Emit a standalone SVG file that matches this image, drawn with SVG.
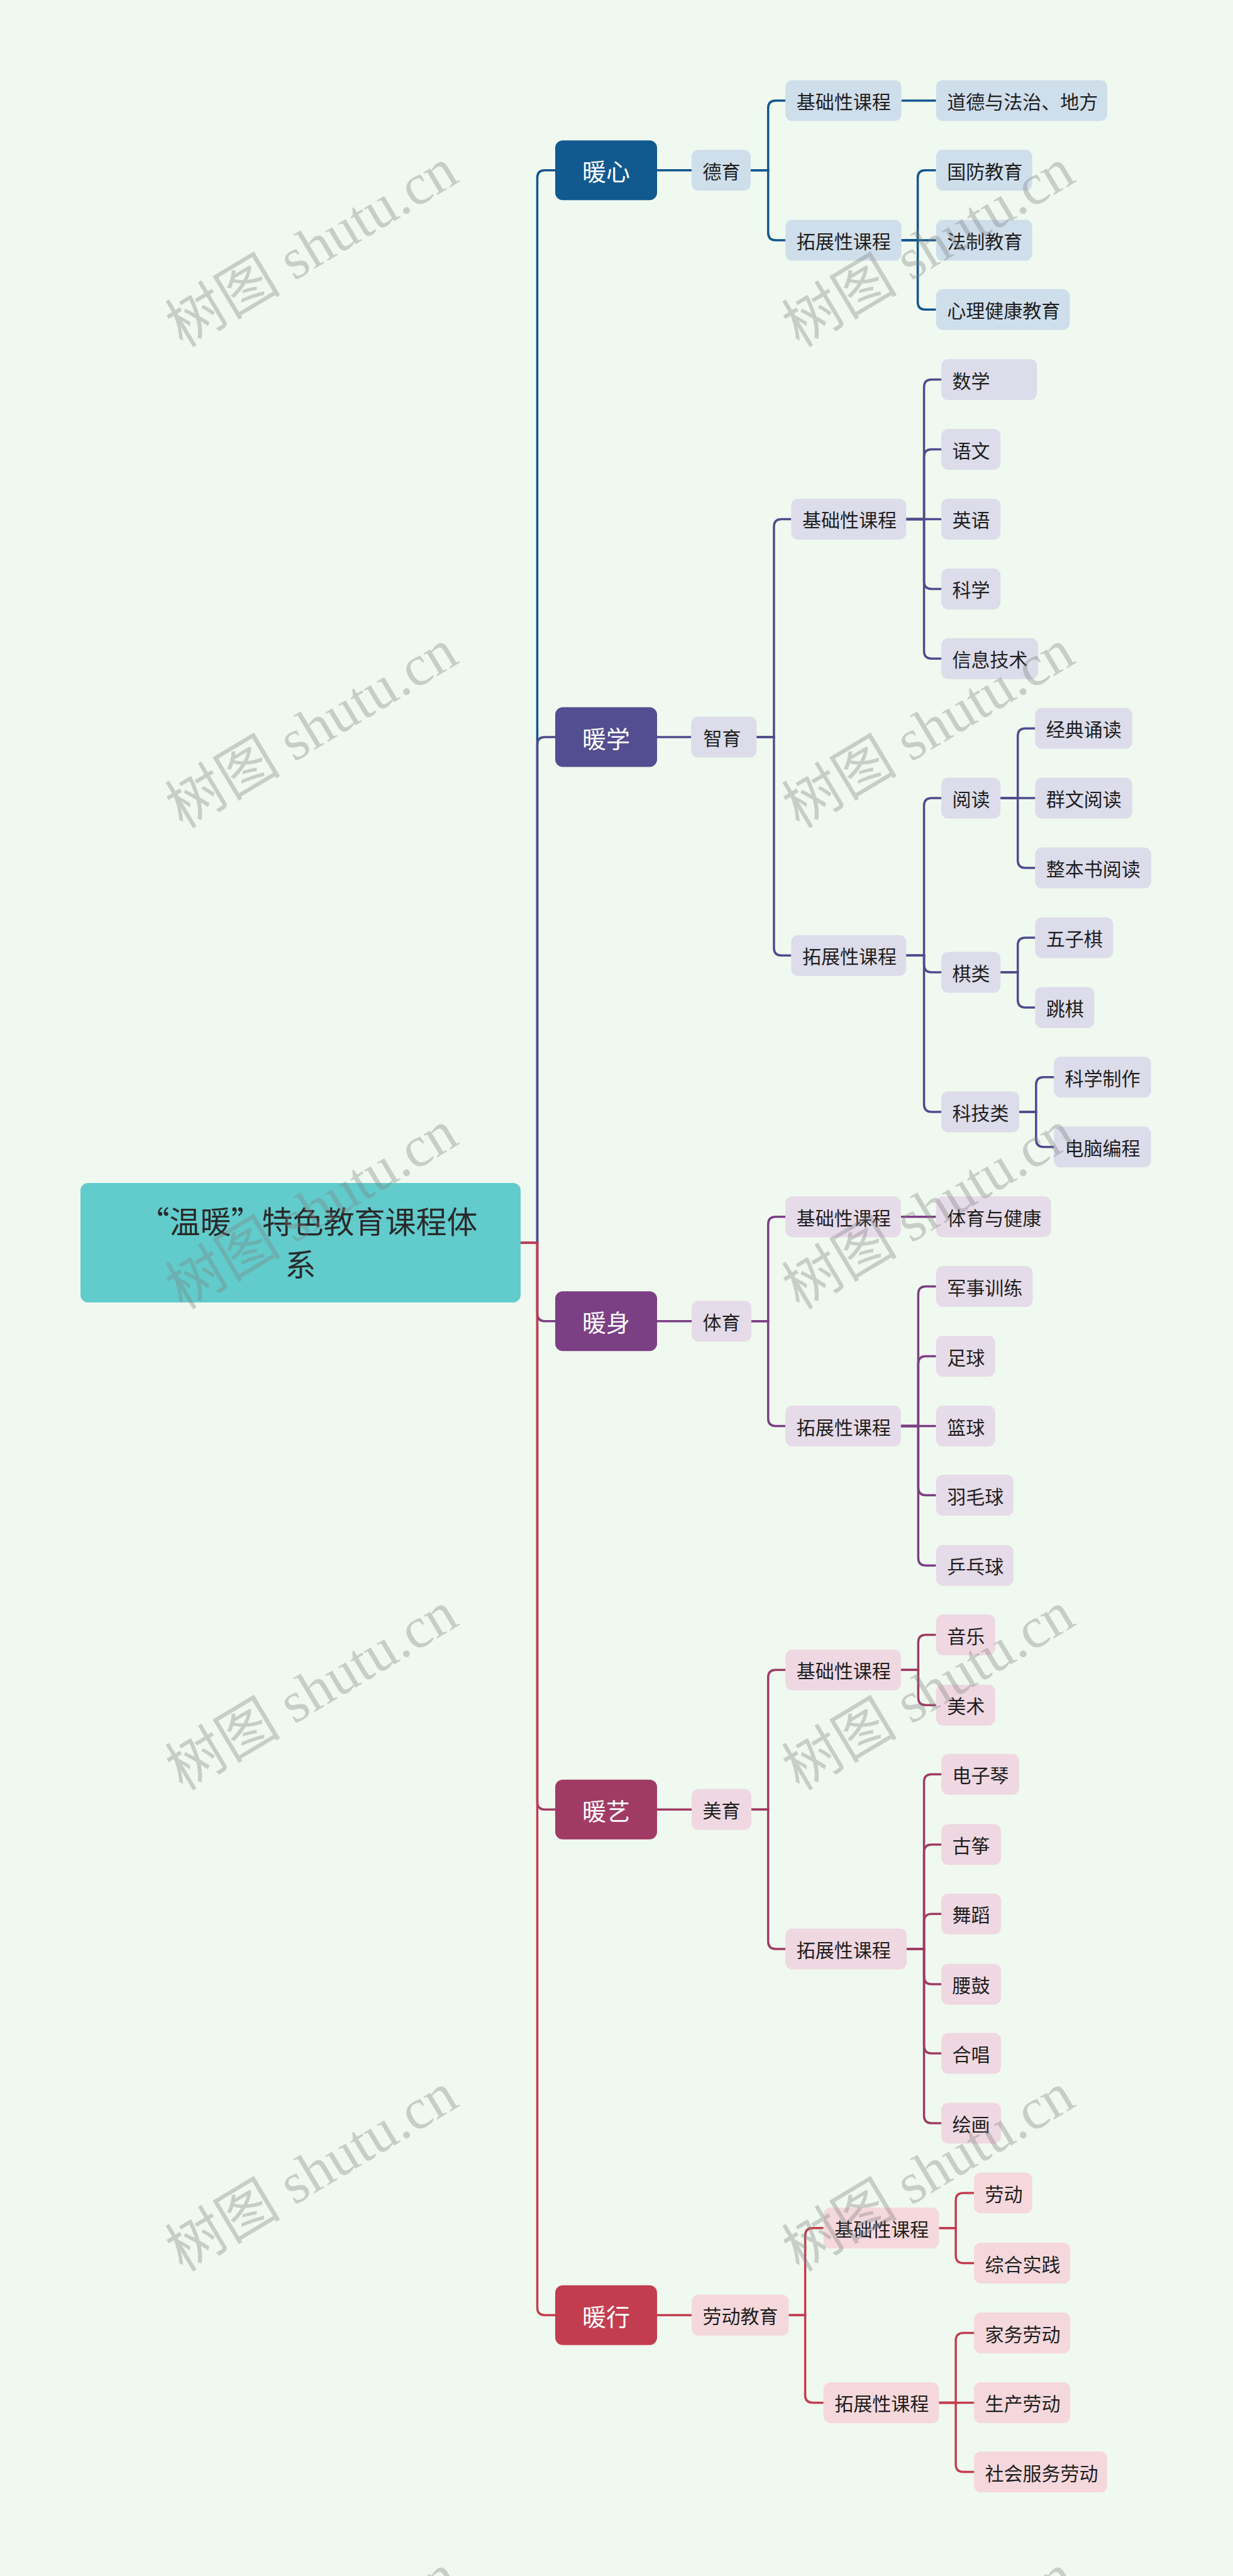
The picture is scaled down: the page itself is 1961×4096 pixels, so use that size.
<svg xmlns="http://www.w3.org/2000/svg" width="1961" height="4096" viewBox="0 0 1961 4096">
<style>
.lb{font-family:"Noto Sans CJK SC","Noto Sans",sans-serif;font-size:30px;fill:#1e1e1e;dominant-baseline:central;}
.mn{font-family:"Noto Sans CJK SC","Noto Sans",sans-serif;font-size:38px;fill:#ffffff;text-anchor:middle;dominant-baseline:central;}
.rt{font-family:"Noto Sans CJK SC","Noto Sans",sans-serif;font-size:49px;fill:#2a2a2a;text-anchor:middle;}
.ln{fill:none;stroke-width:3.5;}
.k1{stroke:#11568f}.k2{stroke:#4f4b8d}.k3{stroke:#7b3f84}.k4{stroke:#9e3b65}.k5{stroke:#c23d4f}
.p1{fill:#cfdeeb}.p2{fill:#dcdcea}.p3{fill:#e6dbe8}.p4{fill:#efd8e2}.p5{fill:#f5d8dc}
.wm{font-family:"Liberation Serif","Noto Sans CJK SC",serif;font-size:92px;fill:#7f7f7f;fill-opacity:0.36;text-anchor:middle;dominant-baseline:central;}
</style>
<rect x="0" y="0" width="1961" height="4096" fill="#f0f9ef"/>

<g id="connectors">
<path class="ln k1" d="M828 1976 H854.5 V282.8 Q854.5 270.8 866.5 270.8 H883"/>
<path class="ln k2" d="M828 1976 H854.5 V1184 Q854.5 1172 866.5 1172 H883"/>
<path class="ln k3" d="M828 1976 H854.5 V2088.7 Q854.5 2100.7 866.5 2100.7 H883"/>
<path class="ln k4" d="M828 1976 H854.5 V2865.2 Q854.5 2877.2 866.5 2877.2 H883"/>
<path class="ln k5" d="M828 1976 H854.5 V3669.2 Q854.5 3681.2 866.5 3681.2 H883"/>

<path class="ln k1" d="M1045 270.8 H1100"/>
<path class="ln k1" d="M1194 270.8 H1221.7 V171.9 Q1221.7 159.9 1233.7 159.9 H1249.2"/>
<path class="ln k1" d="M1194 270.8 H1221.7 V370.1 Q1221.7 382.1 1233.7 382.1 H1249.2"/>
<path class="ln k1" d="M1433.6 159.9 H1488.7"/>
<path class="ln k1" d="M1433.6 382.1 H1459.6 V282.8 Q1459.6 270.8 1471.6 270.8 H1488.7"/>
<path class="ln k1" d="M1433.6 382.1 H1488.7"/>
<path class="ln k1" d="M1433.6 382.1 H1459.6 V480.3 Q1459.6 492.3 1471.6 492.3 H1488.7"/>

<path class="ln k2" d="M1045 1172 H1099.3"/>
<path class="ln k2" d="M1203.3 1172 H1230.9 V837.4 Q1230.9 825.4 1242.9 825.4 H1258.4"/>
<path class="ln k2" d="M1203.3 1172 H1230.9 V1507.3 Q1230.9 1519.3 1242.9 1519.3 H1258.4"/>
<path class="ln k2" d="M1441.2 825.4 H1469.6 V615.6 Q1469.6 603.6 1481.6 603.6 H1497.1"/>
<path class="ln k2" d="M1441.2 825.4 H1469.6 V726.5 Q1469.6 714.5 1481.6 714.5 H1497.1"/>
<path class="ln k2" d="M1441.2 825.4 H1497.1"/>
<path class="ln k2" d="M1441.2 825.4 H1469.6 V924.4 Q1469.6 936.4 1481.6 936.4 H1497.1"/>
<path class="ln k2" d="M1441.2 825.4 H1469.6 V1035.3 Q1469.6 1047.3 1481.6 1047.3 H1497.1"/>
<path class="ln k2" d="M1441.2 1519.3 H1469.6 V1281.1 Q1469.6 1269.1 1481.6 1269.1 H1497.1"/>
<path class="ln k2" d="M1441.2 1519.3 H1469.6 V1534.1 Q1469.6 1546.1 1481.6 1546.1 H1497.1"/>
<path class="ln k2" d="M1441.2 1519.3 H1469.6 V1755.9 Q1469.6 1767.9 1481.6 1767.9 H1497.1"/>
<path class="ln k2" d="M1591.2 1269.1 H1618.7 V1170.2 Q1618.7 1158.2 1630.7 1158.2 H1646.3"/>
<path class="ln k2" d="M1591.2 1269.1 H1646.3"/>
<path class="ln k2" d="M1591.2 1269.1 H1618.7 V1368.1 Q1618.7 1380.1 1630.7 1380.1 H1646.3"/>
<path class="ln k2" d="M1591.2 1546.1 H1618.7 V1503 Q1618.7 1491 1630.7 1491 H1646.3"/>
<path class="ln k2" d="M1591.2 1546.1 H1618.7 V1589.9 Q1618.7 1601.9 1630.7 1601.9 H1646.3"/>
<path class="ln k2" d="M1621 1767.9 H1647.8 V1724.8 Q1647.8 1712.8 1659.8 1712.8 H1676.1"/>
<path class="ln k2" d="M1621 1767.9 H1647.8 V1811.8 Q1647.8 1823.8 1659.8 1823.8 H1676.1"/>

<path class="ln k3" d="M1045 2100.7 H1100"/>
<path class="ln k3" d="M1195 2100.7 H1221.7 V1946.7 Q1221.7 1934.7 1233.7 1934.7 H1249.2"/>
<path class="ln k3" d="M1195 2100.7 H1221.7 V2255.5 Q1221.7 2267.5 1233.7 2267.5 H1249.2"/>
<path class="ln k3" d="M1432.8 1934.7 H1488.7"/>
<path class="ln k3" d="M1432.8 2267.5 H1460.4 V2057.6 Q1460.4 2045.6 1472.4 2045.6 H1488.7"/>
<path class="ln k3" d="M1432.8 2267.5 H1460.4 V2168.5 Q1460.4 2156.5 1472.4 2156.5 H1488.7"/>
<path class="ln k3" d="M1432.8 2267.5 H1488.7"/>
<path class="ln k3" d="M1432.8 2267.5 H1460.4 V2365.6 Q1460.4 2377.6 1472.4 2377.6 H1488.7"/>
<path class="ln k3" d="M1432.8 2267.5 H1460.4 V2477.3 Q1460.4 2489.3 1472.4 2489.3 H1488.7"/>

<path class="ln k4" d="M1045 2877.2 H1100"/>
<path class="ln k4" d="M1195 2877.2 H1221.7 V2667.3 Q1221.7 2655.3 1233.7 2655.3 H1249.2"/>
<path class="ln k4" d="M1195 2877.2 H1221.7 V3087 Q1221.7 3099 1233.7 3099 H1249.2"/>
<path class="ln k4" d="M1432.8 2655.3 H1460.4 V2611.5 Q1460.4 2599.5 1472.4 2599.5 H1488.7"/>
<path class="ln k4" d="M1432.8 2655.3 H1460.4 V2699.2 Q1460.4 2711.2 1472.4 2711.2 H1488.7"/>
<path class="ln k4" d="M1442 3099 H1469.6 V2833.3 Q1469.6 2821.3 1481.6 2821.3 H1497.1"/>
<path class="ln k4" d="M1442 3099 H1469.6 V2945 Q1469.6 2933 1481.6 2933 H1497.1"/>
<path class="ln k4" d="M1442 3099 H1469.6 V3055.2 Q1469.6 3043.2 1481.6 3043.2 H1497.1"/>
<path class="ln k4" d="M1442 3099 H1469.6 V3142.9 Q1469.6 3154.9 1481.6 3154.9 H1497.1"/>
<path class="ln k4" d="M1442 3099 H1469.6 V3253 Q1469.6 3265 1481.6 3265 H1497.1"/>
<path class="ln k4" d="M1442 3099 H1469.6 V3364 Q1469.6 3376 1481.6 3376 H1497.1"/>

<path class="ln k5" d="M1045 3681.2 H1100"/>
<path class="ln k5" d="M1254.5 3681.2 H1280.6 V3554.7 Q1280.6 3542.7 1292.6 3542.7 H1309.7"/>
<path class="ln k5" d="M1254.5 3681.2 H1280.6 V3808.4 Q1280.6 3820.4 1292.6 3820.4 H1309.7"/>
<path class="ln k5" d="M1493.3 3542.7 H1520.1 V3498.9 Q1520.1 3486.9 1532.1 3486.9 H1549.1"/>
<path class="ln k5" d="M1493.3 3542.7 H1520.1 V3586.6 Q1520.1 3598.6 1532.1 3598.6 H1549.1"/>
<path class="ln k5" d="M1493.3 3820.4 H1520.1 V3721.5 Q1520.1 3709.5 1532.1 3709.5 H1549.1"/>
<path class="ln k5" d="M1493.3 3820.4 H1549.1"/>
<path class="ln k5" d="M1493.3 3820.4 H1520.1 V3918.6 Q1520.1 3930.6 1532.1 3930.6 H1549.1"/>
</g>

<g id="root"><rect x="128" y="1881" width="700" height="190" rx="12" fill="#62cbcc"/><text class="rt" x="490" y="1961">“温暖”特色教育课程体</text><text class="rt" x="478" y="2029">系</text></g>

<g id="n-nuanxin"><rect x="883" y="223.3" width="162" height="95" rx="12" fill="#11598f"/><text class="mn" x="964" y="270.8">暖心</text></g>
<g id="n-nuanxue"><rect x="883" y="1124.5" width="162" height="95" rx="12" fill="#534e91"/><text class="mn" x="964" y="1172">暖学</text></g>
<g id="n-nuanshen"><rect x="883" y="2053.2" width="162" height="95" rx="12" fill="#7b3f84"/><text class="mn" x="964" y="2100.7">暖身</text></g>
<g id="n-nuanyi"><rect x="883" y="2829.7" width="162" height="95" rx="12" fill="#a03b65"/><text class="mn" x="964" y="2877.2">暖艺</text></g>
<g id="n-nuanxing"><rect x="883" y="3633.7" width="162" height="95" rx="12" fill="#c23d4f"/><text class="mn" x="964" y="3681.2">暖行</text></g>

<g id="n-deyu"><rect class="p1" x="1100" y="238.3" width="94" height="65" rx="11"/><text class="lb" x="1117.5" y="270.8">德育</text></g>
<g id="n-xin-jc"><rect class="p1" x="1249.2" y="127.4" width="184.4" height="65" rx="11"/><text class="lb" x="1266.7" y="159.9">基础性课程</text></g>
<g id="n-xin-tz"><rect class="p1" x="1249.2" y="349.6" width="184.4" height="65" rx="11"/><text class="lb" x="1266.7" y="382.1">拓展性课程</text></g>
<g id="n-daode"><rect class="p1" x="1488.7" y="127.4" width="272.3" height="65" rx="11"/><text class="lb" x="1506.2" y="159.9">道德与法治、地方</text></g>
<g id="n-guofang"><rect class="p1" x="1488.7" y="238.3" width="153" height="65" rx="11"/><text class="lb" x="1506.2" y="270.8">国防教育</text></g>
<g id="n-fazhi"><rect class="p1" x="1488.7" y="349.6" width="153" height="65" rx="11"/><text class="lb" x="1506.2" y="382.1">法制教育</text></g>
<g id="n-xinli"><rect class="p1" x="1488.7" y="459.8" width="212.7" height="65" rx="11"/><text class="lb" x="1506.2" y="492.3">心理健康教育</text></g>

<g id="n-zhiyu"><rect class="p2" x="1099.3" y="1139.5" width="104" height="65" rx="11"/><text class="lb" x="1118.5" y="1172">智育</text></g>
<g id="n-xue-jc"><rect class="p2" x="1258.4" y="792.9" width="182.8" height="65" rx="11"/><text class="lb" x="1275.9" y="825.4">基础性课程</text></g>
<g id="n-xue-tz"><rect class="p2" x="1258.4" y="1486.8" width="182.8" height="65" rx="11"/><text class="lb" x="1275.9" y="1519.3">拓展性课程</text></g>
<g id="n-shuxue"><rect class="p2" x="1497.1" y="571.1" width="152.2" height="65" rx="11"/><text class="lb" x="1514.6" y="603.6">数学</text></g>
<g id="n-yuwen"><rect class="p2" x="1497.1" y="682" width="94.1" height="65" rx="11"/><text class="lb" x="1514.6" y="714.5">语文</text></g>
<g id="n-yingyu"><rect class="p2" x="1497.1" y="792.9" width="94.1" height="65" rx="11"/><text class="lb" x="1514.6" y="825.4">英语</text></g>
<g id="n-kexue"><rect class="p2" x="1497.1" y="903.9" width="94.1" height="65" rx="11"/><text class="lb" x="1514.6" y="936.4">科学</text></g>
<g id="n-xinxi"><rect class="p2" x="1497.1" y="1014.8" width="153.8" height="65" rx="11"/><text class="lb" x="1514.6" y="1047.3">信息技术</text></g>
<g id="n-yuedu"><rect class="p2" x="1497.1" y="1236.6" width="94.1" height="65" rx="11"/><text class="lb" x="1514.6" y="1269.1">阅读</text></g>
<g id="n-qilei"><rect class="p2" x="1497.1" y="1513.6" width="94.1" height="65" rx="11"/><text class="lb" x="1514.6" y="1546.1">棋类</text></g>
<g id="n-keji"><rect class="p2" x="1497.1" y="1735.4" width="123.9" height="65" rx="11"/><text class="lb" x="1514.6" y="1767.9">科技类</text></g>
<g id="n-jingdian"><rect class="p2" x="1646.3" y="1125.7" width="154.5" height="65" rx="11"/><text class="lb" x="1663.8" y="1158.2">经典诵读</text></g>
<g id="n-qunwen"><rect class="p2" x="1646.3" y="1236.6" width="154.5" height="65" rx="11"/><text class="lb" x="1663.8" y="1269.1">群文阅读</text></g>
<g id="n-zhengben"><rect class="p2" x="1646.3" y="1347.6" width="184.4" height="65" rx="11"/><text class="lb" x="1663.8" y="1380.1">整本书阅读</text></g>
<g id="n-wuziqi"><rect class="p2" x="1646.3" y="1458.5" width="123.9" height="65" rx="11"/><text class="lb" x="1663.8" y="1491">五子棋</text></g>
<g id="n-tiaoqi"><rect class="p2" x="1646.3" y="1569.4" width="94.1" height="65" rx="11"/><text class="lb" x="1663.8" y="1601.9">跳棋</text></g>
<g id="n-kexuezhizuo"><rect class="p2" x="1676.1" y="1680.3" width="154.5" height="65" rx="11"/><text class="lb" x="1693.6" y="1712.8">科学制作</text></g>
<g id="n-diannao"><rect class="p2" x="1676.1" y="1791.3" width="154.5" height="65" rx="11"/><text class="lb" x="1693.6" y="1823.8">电脑编程</text></g>

<g id="n-tiyu"><rect class="p3" x="1100" y="2068.2" width="95" height="65" rx="11"/><text class="lb" x="1117.5" y="2100.7">体育</text></g>
<g id="n-shen-jc"><rect class="p3" x="1249.2" y="1902.2" width="183.6" height="65" rx="11"/><text class="lb" x="1266.7" y="1934.7">基础性课程</text></g>
<g id="n-tiyujiankang"><rect class="p3" x="1488.7" y="1902.2" width="182.8" height="65" rx="11"/><text class="lb" x="1506.2" y="1934.7">体育与健康</text></g>
<g id="n-shen-tz"><rect class="p3" x="1249.2" y="2235" width="183.6" height="65" rx="11"/><text class="lb" x="1266.7" y="2267.5">拓展性课程</text></g>
<g id="n-junshi"><rect class="p3" x="1488.7" y="2013.1" width="153.8" height="65" rx="11"/><text class="lb" x="1506.2" y="2045.6">军事训练</text></g>
<g id="n-zuqiu"><rect class="p3" x="1488.7" y="2124" width="94.1" height="65" rx="11"/><text class="lb" x="1506.2" y="2156.5">足球</text></g>
<g id="n-lanqiu"><rect class="p3" x="1488.7" y="2235" width="94.1" height="65" rx="11"/><text class="lb" x="1506.2" y="2267.5">篮球</text></g>
<g id="n-yumao"><rect class="p3" x="1488.7" y="2345.1" width="123.2" height="65" rx="11"/><text class="lb" x="1506.2" y="2377.6">羽毛球</text></g>
<g id="n-pingpang"><rect class="p3" x="1488.7" y="2456.8" width="123.2" height="65" rx="11"/><text class="lb" x="1506.2" y="2489.3">乒乓球</text></g>

<g id="n-meiyu"><rect class="p4" x="1100" y="2844.7" width="95" height="65" rx="11"/><text class="lb" x="1117.5" y="2877.2">美育</text></g>
<g id="n-yi-jc"><rect class="p4" x="1249.2" y="2622.8" width="183.6" height="65" rx="11"/><text class="lb" x="1266.7" y="2655.3">基础性课程</text></g>
<g id="n-yinyue"><rect class="p4" x="1488.7" y="2567" width="94.1" height="65" rx="11"/><text class="lb" x="1506.2" y="2599.5">音乐</text></g>
<g id="n-meishu"><rect class="p4" x="1488.7" y="2678.7" width="94.1" height="65" rx="11"/><text class="lb" x="1506.2" y="2711.2">美术</text></g>
<g id="n-yi-tz"><rect class="p4" x="1249.2" y="3066.5" width="192.8" height="65" rx="11"/><text class="lb" x="1266.7" y="3099">拓展性课程</text></g>
<g id="n-dianziqin"><rect class="p4" x="1497.1" y="2788.8" width="123.9" height="65" rx="11"/><text class="lb" x="1514.6" y="2821.3">电子琴</text></g>
<g id="n-guzheng"><rect class="p4" x="1497.1" y="2900.5" width="94.9" height="65" rx="11"/><text class="lb" x="1514.6" y="2933">古筝</text></g>
<g id="n-wudao"><rect class="p4" x="1497.1" y="3010.7" width="94.9" height="65" rx="11"/><text class="lb" x="1514.6" y="3043.2">舞蹈</text></g>
<g id="n-yaogu"><rect class="p4" x="1497.1" y="3122.4" width="94.9" height="65" rx="11"/><text class="lb" x="1514.6" y="3154.9">腰鼓</text></g>
<g id="n-hechang"><rect class="p4" x="1497.1" y="3232.5" width="94.9" height="65" rx="11"/><text class="lb" x="1514.6" y="3265">合唱</text></g>
<g id="n-huihua"><rect class="p4" x="1497.1" y="3343.5" width="94.9" height="65" rx="11"/><text class="lb" x="1514.6" y="3376">绘画</text></g>

<g id="n-laodongjiaoyu"><rect class="p5" x="1100" y="3648.7" width="154.5" height="65" rx="11"/><text class="lb" x="1117.5" y="3681.2">劳动教育</text></g>
<g id="n-xing-jc"><rect class="p5" x="1309.7" y="3510.2" width="183.6" height="65" rx="11"/><text class="lb" x="1327.2" y="3542.7">基础性课程</text></g>
<g id="n-xing-tz"><rect class="p5" x="1309.7" y="3787.9" width="183.6" height="65" rx="11"/><text class="lb" x="1327.2" y="3820.4">拓展性课程</text></g>
<g id="n-laodong"><rect class="p5" x="1549.1" y="3454.4" width="92.6" height="65" rx="11"/><text class="lb" x="1566.6" y="3486.9">劳动</text></g>
<g id="n-zonghe"><rect class="p5" x="1549.1" y="3566.1" width="153" height="65" rx="11"/><text class="lb" x="1566.6" y="3598.6">综合实践</text></g>
<g id="n-jiawu"><rect class="p5" x="1549.1" y="3677" width="153" height="65" rx="11"/><text class="lb" x="1566.6" y="3709.5">家务劳动</text></g>
<g id="n-shengchan"><rect class="p5" x="1549.1" y="3787.9" width="153" height="65" rx="11"/><text class="lb" x="1566.6" y="3820.4">生产劳动</text></g>
<g id="n-shehui"><rect class="p5" x="1549.1" y="3898.1" width="211.9" height="65" rx="11"/><text class="lb" x="1566.6" y="3930.6">社会服务劳动</text></g>

<g id="watermarks">
<text class="wm" transform="translate(495.7 394) rotate(-31)">树图 shutu.cn</text>
<text class="wm" transform="translate(1476.5 394) rotate(-31)">树图 shutu.cn</text>
<text class="wm" transform="translate(495.7 1159) rotate(-31)">树图 shutu.cn</text>
<text class="wm" transform="translate(1476.5 1159) rotate(-31)">树图 shutu.cn</text>
<text class="wm" transform="translate(495.7 1924) rotate(-31)">树图 shutu.cn</text>
<text class="wm" transform="translate(1476.5 1924) rotate(-31)">树图 shutu.cn</text>
<text class="wm" transform="translate(495.7 2689) rotate(-31)">树图 shutu.cn</text>
<text class="wm" transform="translate(1476.5 2689) rotate(-31)">树图 shutu.cn</text>
<text class="wm" transform="translate(495.7 3454) rotate(-31)">树图 shutu.cn</text>
<text class="wm" transform="translate(1476.5 3454) rotate(-31)">树图 shutu.cn</text>
<text class="wm" transform="translate(495.7 4219) rotate(-31)">树图 shutu.cn</text>
<text class="wm" transform="translate(1476.5 4219) rotate(-31)">树图 shutu.cn</text>
</g>
</svg>
